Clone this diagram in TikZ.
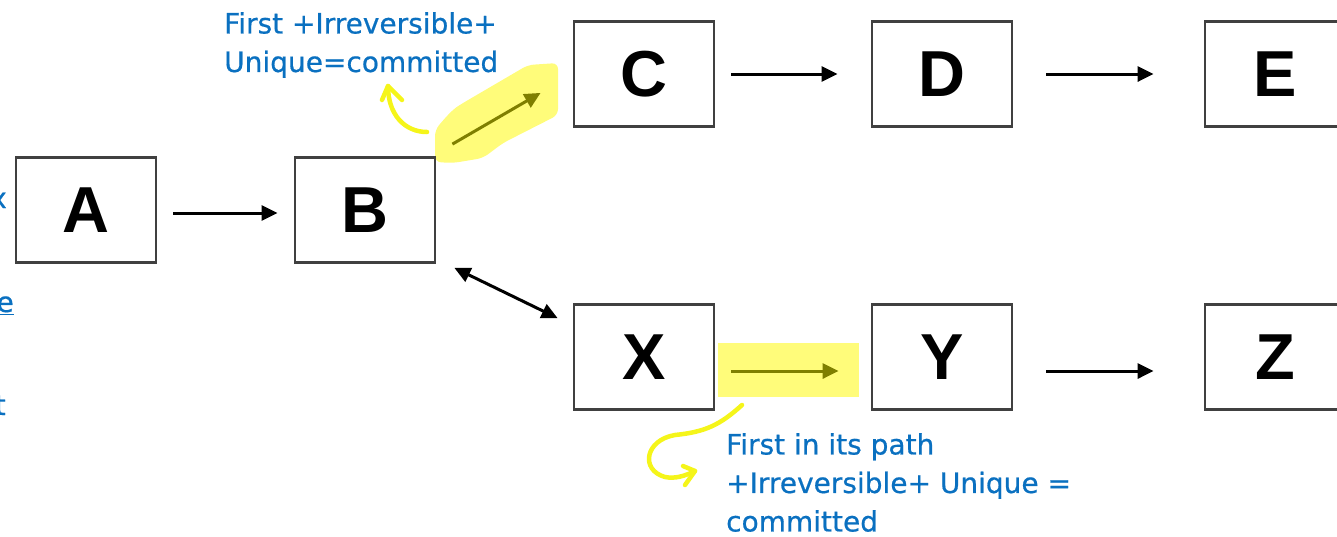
\documentclass[tikz,border=0pt]{standalone}
\usepackage{fontspec}
\setmainfont{Liberation Sans}
\newfontfamily\notefont[FakeBold=0.6]{DejaVu Sans}
\usetikzlibrary{arrows.meta}
\definecolor{noteblue}{HTML}{0A70C0}
\definecolor{hl}{HTML}{FFFC7A}
\definecolor{olive}{HTML}{7F7F00}
\definecolor{boxline}{HTML}{404040}
\definecolor{curl}{HTML}{F5F51A}
\tikzset{
  letterbox/.style={draw=boxline, line width=2.8pt, minimum width=140pt, minimum height=105pt, inner sep=0pt, font=\bfseries\fontsize{65}{65}\selectfont},
  flow/.style={line width=3pt, -{Triangle[length=16pt,width=15pt]}},
  flowolive/.style={flow, draw=olive, -{Triangle[length=16pt,width=15pt,fill=olive]}},
  note/.style={text=noteblue, font=\notefont\fontsize{28}{38.5}\selectfont, align=left, inner sep=0pt},
  curlline/.style={draw=curl, line width=4.5pt, line cap=round, line join=round},
}
\begin{document}
\begin{tikzpicture}[x=1pt,y=-1pt]
\useasboundingbox (0,0) rectangle (1337,536);
\clip (0,0) rectangle (1337,536);
% highlights
\fill[hl, rounded corners=6pt] (435,130) .. controls (445,118) and (452,110) .. (463,103) -- (528,65) -- (558,63) -- (558,115) -- (503,143) -- (483,158) -- (453,163) -- (435,162) -- cycle;
\fill[hl] (718,343) rectangle (859,397);
% boxes
\node[letterbox] (A) at (86,210) {A};
\node[letterbox] (B) at (365,210) {B};
\node[letterbox] (C) at (644,74) {C};
\node[letterbox] (D) at (942,74) {D};
\node[letterbox] (E) at (1275,74) {E};
\node[letterbox] (X) at (644,357) {X};
\node[letterbox] (Y) at (942,357) {Y};
\node[letterbox] (Z) at (1275,357) {Z};
% connectors
\draw[flow] ([xshift=16pt,yshift=-3pt]A.east) -- ([xshift=-16pt,yshift=-3pt]B.west);
\draw[flow] ([xshift=16pt]C.east) -- ([xshift=-33pt]D.west);
\draw[flow] ([xshift=33pt]D.east) -- ([xshift=-50pt]E.west);
\draw[flow] ([xshift=33pt,yshift=-14pt]Y.east) -- ([xshift=-50pt,yshift=-14pt]Z.west);
\draw[flowolive] ([xshift=16pt,yshift=-14pt]X.east) -- ([xshift=-32pt,yshift=-14pt]Y.west);
\draw[line width=3pt, {Triangle[length=16pt,width=15pt]}-{Triangle[length=16pt,width=15pt]}] ([shift={(18pt,-4pt)}]B.south east) -- ([shift={(-15pt,-15pt)}]X.north west);
\draw[flowolive] ([shift={(16pt,12pt)}]B.north east) -- ([shift={(-32pt,35pt)}]C.south west);
% notes
\node[note, anchor=north west] (n1) at (224,12) {First +Irreversible+\\Unique=committed};
\node[note, anchor=north west] (n2) at (726,433) {First in its path\\+Irreversible+ Unique =\\committed};
% curls
\coordinate (c1s) at (427,132);
\coordinate (c1t) at (388,86);
\draw[curlline] (c1s) .. controls (405,132) and (388,115) .. (c1t);
\draw[curlline] (382,100) -- (c1t) -- (402,100);
\coordinate (c2s) at (742,405);
\coordinate (c2t) at (695,471);
\draw[curlline] (c2s) .. controls (720,425) and (705,432) .. (675,435) .. controls (645,440) and (640,470) .. (665,477) .. controls (675,479) and (685,476) .. (c2t);
\draw[curlline] (683,466) -- (c2t) -- (685,485);
% cut-off text at left edge
\node[note, anchor=base east] (l1) at (7,208) {x};
\node[note, anchor=base east] (l2) at (14,312) {\underline{e}};
\node[note, anchor=base east] (l3) at (6,415) {t};
\end{tikzpicture}
\end{document}
